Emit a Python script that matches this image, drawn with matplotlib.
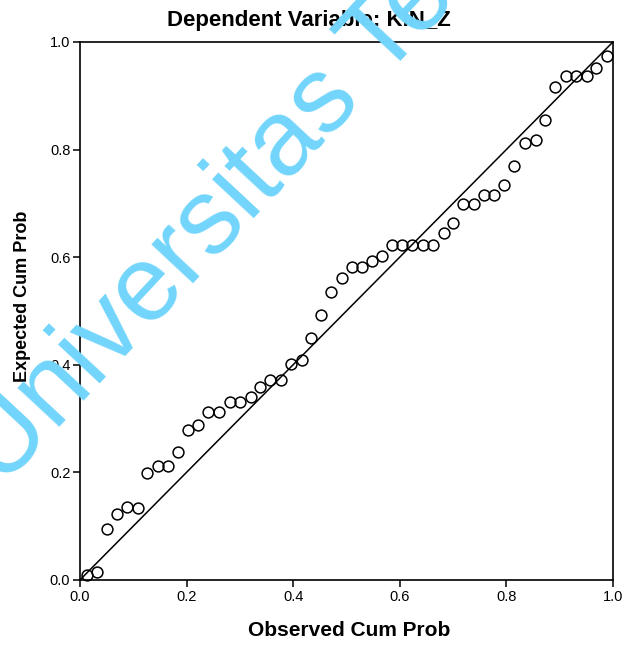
import numpy as np
import matplotlib.pyplot as plt

plt.rcParams['font.family'] = ['Liberation Sans', 'DejaVu Sans']

# observed vs expected cumulative probabilities
observed = np.array([0.013, 0.031, 0.050, 0.069, 0.089, 0.108, 0.126, 0.146, 0.165, 0.183,
                     0.202, 0.222, 0.241, 0.261, 0.281, 0.300, 0.320, 0.338, 0.356, 0.377,
                     0.395, 0.416, 0.433, 0.453, 0.471, 0.491, 0.510, 0.529, 0.547, 0.566,
                     0.585, 0.604, 0.622, 0.643, 0.663, 0.682, 0.700, 0.719, 0.739, 0.758,
                     0.777, 0.795, 0.814, 0.835, 0.855, 0.872, 0.891, 0.911, 0.930, 0.951,
                     0.969, 0.989])
expected = np.array([0.009, 0.014, 0.094, 0.123, 0.135, 0.133, 0.198, 0.212, 0.212, 0.237,
                     0.279, 0.288, 0.312, 0.312, 0.331, 0.330, 0.340, 0.358, 0.372, 0.372,
                     0.401, 0.409, 0.449, 0.493, 0.535, 0.561, 0.582, 0.582, 0.593, 0.602,
                     0.623, 0.623, 0.623, 0.623, 0.623, 0.644, 0.664, 0.699, 0.699, 0.716,
                     0.716, 0.734, 0.770, 0.812, 0.818, 0.855, 0.917, 0.936, 0.936, 0.936,
                     0.951, 0.973])
ticks = [0.0, 0.2, 0.4, 0.6, 0.8, 1.0]
tick_labels = ['0.0', '0.2', '0.4', '0.6', '0.8', '1.0']

fig = plt.figure(figsize=(6.3, 6.45), dpi=100)
ax = fig.add_axes([0.127, 0.101, 0.846, 0.834])

ax.plot([0, 1], [0, 1], color='black', linewidth=1.1)
ax.plot(observed, expected, 'o', markerfacecolor='none', markeredgecolor='black',
        markersize=7.8, markeredgewidth=1.1, clip_on=False)

ax.set_xlim(0, 1)
ax.set_ylim(0, 1)
ax.set_xticks(ticks)
ax.set_xticklabels(tick_labels)
ax.set_yticks(ticks)
ax.set_yticklabels(tick_labels)
ax.tick_params(direction='out', length=5, width=1.1, labelsize=10.5, pad=2)
for s in ax.spines.values():
    s.set_linewidth(1.2)

fig.text(0.49, 0.968, 'Dependent Variable: KIN_Z', ha='center', va='center',
         fontsize=16, fontweight='bold')
fig.text(0.555, 0.023, 'Observed Cum Prob', ha='center', va='center',
         fontsize=15, fontweight='bold')
fig.text(0.036, 0.541, 'Expected Cum Prob', ha='center', va='center',
         fontsize=13, fontweight='bold', rotation=90)

# watermark
fig.text(0.003, 0.243, 'Universitas Terbuka', fontsize=77, color='#72d5fb',
         rotation=47, rotation_mode='anchor', ha='left', va='baseline', zorder=10)

fig.savefig('out.png', dpi=100)
